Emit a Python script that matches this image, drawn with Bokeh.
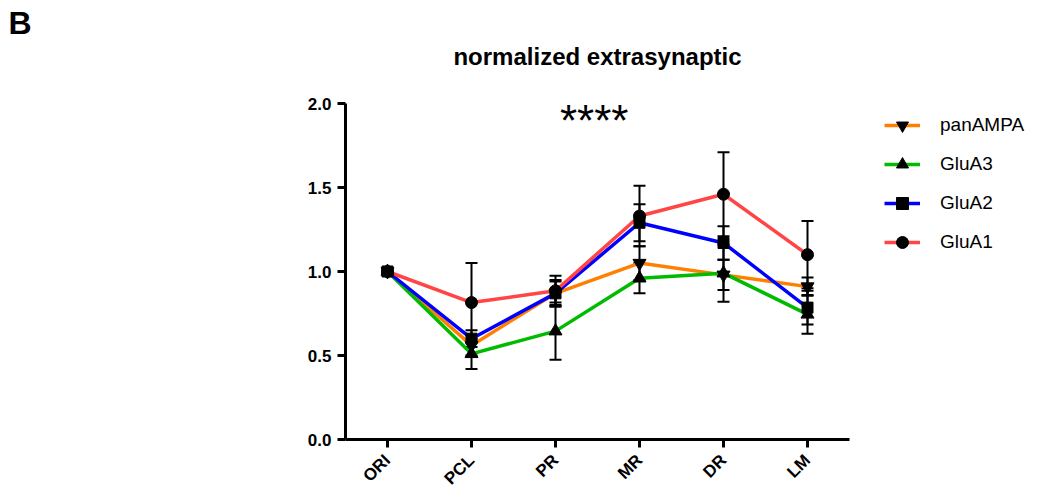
from bokeh.plotting import figure
from bokeh.models import (ColumnDataSource, Range1d, FixedTicker, Whisker, TeeHead,
                          Label, Legend, LegendItem)
from bokeh.embed import file_html
from bokeh.resources import INLINE

# Layers of the hippocampal CA region along the x axis
categories = ["ORI", "PCL", "PR", "MR", "DR", "LM"]

# Normalized extrasynaptic labeling (mean) and error per layer
panAMPA = [1.0, 0.56, 0.87, 1.05, 0.98, 0.91]
panAMPA_err = [0.0, 0.06, 0.08, 0.10, 0.09, 0.055]
GluA3 = [1.0, 0.51, 0.645, 0.96, 0.99, 0.745]
GluA3_err = [0.0, 0.09, 0.17, 0.09, 0.17, 0.115]
GluA2 = [1.0, 0.60, 0.87, 1.29, 1.17, 0.785]
GluA2_err = [0.0, 0.05, 0.07, 0.11, 0.10, 0.10]
GluA1 = [1.0, 0.815, 0.885, 1.33, 1.46, 1.10]
GluA1_err = [0.0, 0.235, 0.09, 0.18, 0.25, 0.20]

y_ticks = [0.0, 0.5, 1.0, 1.5, 2.0]
y_tick_labels = ["0.0", "0.5", "1.0", "1.5", "2.0"]

FONT = "Liberation Sans"

series = [
    ("panAMPA", panAMPA, panAMPA_err, "#FF8000", "inverted_triangle", 13),
    ("GluA3", GluA3, GluA3_err, "#00BB00", "triangle", 13),
    ("GluA2", GluA2, GluA2_err, "#0000FF", "square", 11),
    ("GluA1", GluA1, GluA1_err, "#FF4545", "circle", 12),
]

# 84 px per category and 168 px per unit on y; the plot area also holds the
# title and the legend, while the axes are bounded to the data extent.
X_MIN, X_MAX = -0.5, -0.5 + (1062 - 345) / 84.0
Y_MIN, Y_MAX = 0.0, 2.0 + (103 - 40) / 168.0

p = figure(width=1062, height=504, output_backend="svg", toolbar_location=None,
           x_range=Range1d(X_MIN, X_MAX), y_range=Range1d(Y_MIN, Y_MAX),
           min_border_left=345, min_border_right=0,
           min_border_top=40, min_border_bottom=65)

p.outline_line_color = None
p.xgrid.visible = False
p.ygrid.visible = False
p.background_fill_color = "white"
p.border_fill_color = "white"

# Panel letter
p.title.text = "B"
p.title.align = "left"
p.title.offset = -337
p.title.text_font = FONT
p.title.text_font_style = "bold"
p.title.text_font_size = "32px"
p.title.text_color = "black"
p.title.standoff = 0

# Chart title
p.add_layout(Label(x=2.5, y=(439 - 56) / 168.0, text="normalized extrasynaptic",
                   text_font=FONT, text_font_style="bold", text_font_size="24px",
                   text_align="center", text_baseline="middle", text_color="black"))

# Axes
for ax in (p.xaxis[0], p.yaxis[0]):
    ax.axis_line_width = 3
    ax.axis_line_color = "black"
    ax.major_tick_line_width = 3
    ax.major_tick_line_color = "black"
    ax.major_tick_out = 8
    ax.major_tick_in = 0
    ax.minor_tick_line_color = None
    ax.major_label_text_font = FONT
    ax.major_label_text_font_style = "bold"
    ax.major_label_text_font_size = "17px"
    ax.major_label_text_color = "black"

p.yaxis.ticker = FixedTicker(ticks=y_ticks)
p.yaxis.major_label_overrides = {t: s for t, s in zip(y_ticks, y_tick_labels)}
p.yaxis.major_label_standoff = 6
p.yaxis.bounds = (0.0, 2.0)

xs = list(range(len(categories)))
p.xaxis.ticker = FixedTicker(ticks=xs)
p.xaxis.major_label_overrides = {i: c for i, c in zip(xs, categories)}
p.xaxis.major_label_orientation = 0.785398
p.xaxis.major_label_standoff = 10
p.xaxis.bounds = (-0.5, 5.5)

# Lines first, then error bars, then markers on top
line_renderers = {}
for name, vals, err, color, marker, size in series:
    line_renderers[name] = p.line(xs, vals, line_color=color, line_width=3.5)

for name, vals, err, color, marker, size in series:
    src = ColumnDataSource(dict(
        x=xs,
        upper=[v + e for v, e in zip(vals, err)],
        lower=[v - e for v, e in zip(vals, err)],
    ))
    w = Whisker(source=src, base="x", upper="upper", lower="lower",
                dimension="height", line_color="black", line_width=2,
                upper_head=TeeHead(size=12, line_width=2, line_color="black"),
                lower_head=TeeHead(size=12, line_width=2, line_color="black"))
    p.add_layout(w)

marker_renderers = {}
for name, vals, err, color, marker, size in [series[3], series[0], series[1], series[2]]:
    marker_renderers[name] = p.scatter(xs, vals, marker=marker, size=size,
                                       fill_color="black", line_color="black")

# Significance marker
p.add_layout(Label(x=2.46, y=1.90, text="****", text_font=FONT,
                   text_font_size="44px", text_align="center",
                   text_baseline="middle", text_color="black"))

legend = Legend(
    items=[LegendItem(label=name, renderers=[line_renderers[name], marker_renderers[name]])
           for name, *_ in series],
    location=(539, 182),
    orientation="vertical",
    border_line_color=None,
    background_fill_alpha=0,
    padding=0, margin=0,
    glyph_width=36, glyph_height=30,
    label_height=20, label_standoff=20, spacing=9,
    label_text_font=FONT, label_text_font_size="19px", label_text_color="black",
)
p.add_layout(legend)

open("out.html", "w").write(file_html(p, INLINE))
